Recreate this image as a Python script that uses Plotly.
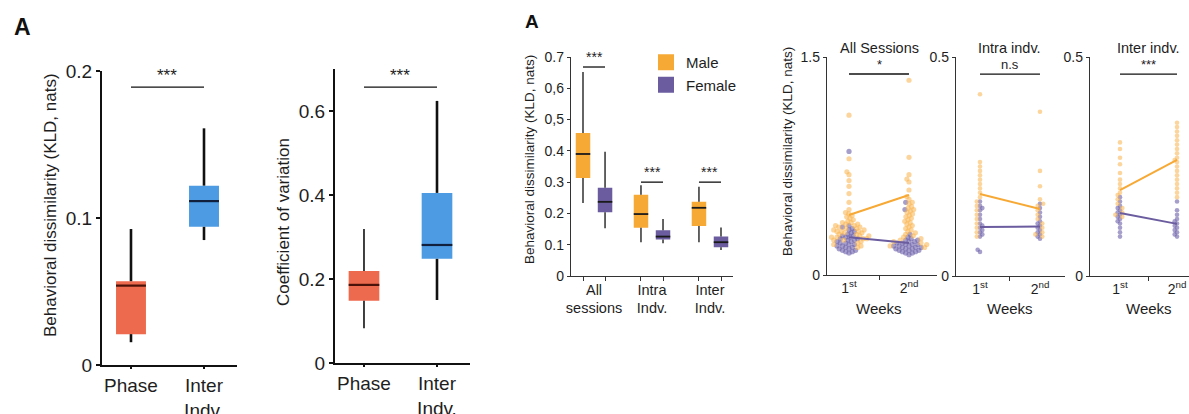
import math
import plotly.graph_objects as go

W, H = 1189, 414
FONT = "Liberation Sans, Arial, sans-serif"
TXT = "#1e1e1e"

# ---------------- Panel 1 : KLD phase vs inter-individual ----------------
p1_cats = ["Phase", "Inter<br>Indv."]
p1_low = [0.0155, 0.085]
p1_q1 = [0.021, 0.094]
p1_med = [0.054, 0.1115]
p1_q3 = [0.057, 0.122]
p1_high = [0.0925, 0.161]
p1_sig = 0.189
p1_colors = ["#EE6A4E", "#4C9BE3"]

# ---------------- Panel 2 : coefficient of variation ----------------
p2_cats = ["Phase", "Inter<br>Indv."]
p2_low = [0.083, 0.150]
p2_q1 = [0.148, 0.248]
p2_med = [0.186, 0.281]
p2_q3 = [0.219, 0.405]
p2_high = [0.319, 0.624]
p2_sig = 0.657

# ---------------- Panel 3 : male vs female ----------------
p3_groups = ["All<br>sessions", "Intra<br>Indv.", "Inter<br>Indv."]
p3_male_low = [0.233, 0.108, 0.108]
p3_male_q1 = [0.313, 0.154, 0.160]
p3_male_med = [0.390, 0.198, 0.218]
p3_male_q3 = [0.457, 0.260, 0.237]
p3_male_high = [0.652, 0.290, 0.285]
p3_fem_low = [0.153, 0.105, 0.083]
p3_fem_q1 = [0.204, 0.117, 0.092]
p3_fem_med = [0.237, 0.126, 0.108]
p3_fem_q3 = [0.282, 0.146, 0.126]
p3_fem_high = [0.397, 0.182, 0.155]
p3_sig = [0.668, 0.300, 0.300]
p3_yticks = [0, 0.1, 0.2, 0.3, 0.4, 0.5, 0.6, 0.7]
p3_yticktext = ["0", "0.1", "0.2", "0.3", "0.4", "0,5", "0,6", "0.7"]

# ---------------- Panels 4-6 : weeks ----------------
weeks = ["1<sup>st</sup>", "2<sup>nd</sup>"]

all_m_w1 = [1.10, 0.80, 0.71, 0.69, 0.65, 0.61, 0.56, 0.50, 0.45, 0.43, 0.42, 0.41,
            0.40, 0.39, 0.38, 0.37, 0.36, 0.36, 0.35, 0.35, 0.34, 0.34, 0.33, 0.33,
            0.32, 0.32, 0.31, 0.31, 0.30, 0.30, 0.30, 0.29, 0.29, 0.28, 0.28, 0.27,
            0.27, 0.26, 0.26, 0.25, 0.25, 0.24, 0.24, 0.23, 0.22, 0.21, 0.20, 0.19]
all_f_w1 = [0.85, 0.34, 0.33, 0.32, 0.31, 0.30, 0.29, 0.28, 0.27, 0.27, 0.26, 0.26,
            0.25, 0.25, 0.24, 0.24, 0.23, 0.23, 0.22, 0.22, 0.21, 0.21, 0.20, 0.20,
            0.19, 0.19, 0.18, 0.18, 0.17, 0.17, 0.16, 0.16, 0.15]
all_m_w2 = [1.34, 0.81, 0.69, 0.66, 0.64, 0.585, 0.54, 0.52, 0.50, 0.49, 0.47, 0.46,
            0.45, 0.44, 0.43, 0.42, 0.41, 0.40, 0.39, 0.38, 0.37, 0.36, 0.35, 0.34,
            0.33, 0.32, 0.31, 0.30, 0.29, 0.28, 0.27, 0.26, 0.25, 0.24, 0.23, 0.22,
            0.21, 0.20, 0.19]
all_f_w2 = [0.50, 0.45, 0.28, 0.26, 0.25, 0.24, 0.24, 0.23, 0.23, 0.22, 0.22, 0.21,
            0.21, 0.21, 0.20, 0.20, 0.20, 0.19, 0.19, 0.19, 0.18, 0.18, 0.18, 0.17,
            0.17, 0.17, 0.16, 0.16, 0.15, 0.15, 0.14]
all_m_mean = [0.413, 0.550]
all_f_mean = [0.260, 0.220]
all_sig = 1.383

intra_m_w1 = [0.415, 0.26, 0.25, 0.24, 0.23, 0.22, 0.21, 0.20, 0.19, 0.18, 0.17,
              0.16, 0.15, 0.14, 0.13, 0.12, 0.11, 0.10, 0.09]
intra_f_w1 = [0.17, 0.16, 0.155, 0.15, 0.14, 0.13, 0.12, 0.115, 0.11, 0.105, 0.10,
              0.095, 0.09, 0.06, 0.055]
intra_m_w2 = [0.375, 0.24, 0.205, 0.175, 0.165, 0.16, 0.15, 0.14, 0.13, 0.12, 0.11,
              0.10, 0.095, 0.09]
intra_f_w2 = [0.165, 0.155, 0.145, 0.135, 0.125, 0.12, 0.115, 0.11, 0.105, 0.10,
              0.095, 0.09, 0.085]
intra_m_mean = [0.187, 0.153]
intra_f_mean = [0.112, 0.113]
intra_sig = 0.461

inter_m_w1 = [0.305, 0.29, 0.27, 0.255, 0.235, 0.22, 0.21, 0.20, 0.19, 0.185, 0.175,
              0.165, 0.155, 0.145, 0.14, 0.135]
inter_f_w1 = [0.18, 0.17, 0.16, 0.155, 0.15, 0.145, 0.14, 0.135, 0.13, 0.125, 0.12,
              0.11, 0.10, 0.09]
inter_m_w2 = [0.35, 0.34, 0.33, 0.32, 0.31, 0.30, 0.29, 0.28, 0.27, 0.265, 0.26, 0.25,
              0.24, 0.23, 0.22, 0.21, 0.20, 0.19, 0.18]
inter_f_w2 = [0.17, 0.15, 0.14, 0.13, 0.125, 0.12, 0.115, 0.11, 0.105, 0.10, 0.095, 0.09]
inter_m_mean = [0.196, 0.265]
inter_f_mean = [0.144, 0.119]
inter_sig = 0.461

ORANGE = "#F7A936"
PURPLE = "#6A5C9E"
ORANGE_PT = "#F9B24A"
PURPLE_PT = "#6B5FA8"


def xdom(a, b):
    return [a / W, min(b / W, 1.0)]


def ydom(top, bottom):
    return [1 - bottom / H, 1 - top / H]


def swarm(vals, px_per_unit, d):
    """Simple beeswarm: horizontal pixel offsets so markers do not overlap."""
    ys = [v * px_per_unit for v in vals]
    order = sorted(range(len(ys)), key=lambda i: ys[i])
    placed = []
    offs = [0.0] * len(ys)
    for i in order:
        y = ys[i]
        cands = [0.0]
        for (xj, yj) in placed:
            dy = abs(y - yj)
            if dy < d:
                dx = math.sqrt(d * d - dy * dy)
                cands += [xj + dx, xj - dx]
        cands.sort(key=lambda c: (abs(c), c))
        for c in cands:
            ok = all((c - xj) ** 2 + (y - yj) ** 2 >= d * d - 1e-6 for (xj, yj) in placed)
            if ok:
                offs[i] = c
                placed.append((c, y))
                break
    return offs


fig = go.Figure()


def add_box(xa, ya, x, lo, q1, med, q3, hi, width, fill, wlw, mlw=2.2, mcol="#1a1a1a"):
    fig.add_trace(go.Box(x=[x], q1=[q1], median=[med], q3=[q3], lowerfence=[lo],
                         upperfence=[hi], width=width, fillcolor=fill,
                         line=dict(color=fill, width=0), whiskerwidth=0,
                         boxpoints=False, xaxis=xa, yaxis=ya, showlegend=False,
                         hoverinfo="skip"))
    fig.add_trace(go.Scatter(x=[x, x, None, x, x], y=[lo, q1, None, q3, hi],
                             mode="lines", line=dict(color="#111111", width=wlw),
                             xaxis=xa, yaxis=ya, showlegend=False, hoverinfo="skip"))
    fig.add_trace(go.Scatter(x=[x - width / 2, x + width / 2], y=[med, med],
                             mode="lines", line=dict(color=mcol, width=mlw),
                             xaxis=xa, yaxis=ya, showlegend=False, hoverinfo="skip"))


annotations = []
shapes = []


def sig(xa, ya, x0, x1, y, text, size):
    shapes.append(dict(type="line", xref=xa, yref=ya, x0=x0, x1=x1, y0=y, y1=y,
                       line=dict(color="#111111", width=1.3)))
    annotations.append(dict(xref=xa, yref=ya, x=(x0 + x1) / 2, y=y, text=text,
                            showarrow=False, yanchor="bottom",
                            font=dict(size=size, color=TXT, family=FONT)))


# ----- Panel 1 -----
for i in range(2):
    add_box("x", "y", i, p1_low[i], p1_q1[i], p1_med[i], p1_q3[i], p1_high[i], 0.41,
            p1_colors[i], 2.6, mcol=["#4a1208", "#10203d"][i])
sig("x", "y", 0, 1, p1_sig, "***", 17)

# ----- Panel 2 -----
for i in range(2):
    add_box("x2", "y2", i, p2_low[i], p2_q1[i], p2_med[i], p2_q3[i], p2_high[i], 0.42,
            p1_colors[i], [1.6, 2.6][i], mcol=["#4a1208", "#10203d"][i])
sig("x2", "y2", 0, 1, p2_sig, "***", 17)

# ----- Panel 3 -----
OFF = 0.19
for g in range(3):
    add_box("x3", "y3", g - OFF, p3_male_low[g], p3_male_q1[g], p3_male_med[g],
            p3_male_q3[g], p3_male_high[g], 0.25, ORANGE, 1.3, mlw=1.8)
    add_box("x3", "y3", g + OFF, p3_fem_low[g], p3_fem_q1[g], p3_fem_med[g],
            p3_fem_q3[g], p3_fem_high[g], 0.25, PURPLE, 1.3, mlw=1.8)
    sig("x3", "y3", g - OFF, g + OFF, p3_sig[g], "***", 14)

# legend entries
fig.add_trace(go.Scatter(x=[None], y=[None], mode="markers", name="Male",
                         marker=dict(symbol="square", size=16, color=ORANGE),
                         xaxis="x3", yaxis="y3"))
fig.add_trace(go.Scatter(x=[None], y=[None], mode="markers", name="Female",
                         marker=dict(symbol="square", size=16, color=PURPLE),
                         xaxis="x3", yaxis="y3"))

# ----- Panels 4-6 -----
panels = [
    ("x4", "y4", 1.5, 145.3, 60.0, [all_m_w1, all_m_w2], [all_f_w1, all_f_w2],
     all_m_mean, all_f_mean, all_sig, "*", "All Sessions", 3.6, 5.2),
    ("x5", "y5", 0.5, 438.0, 60.0, [intra_m_w1, intra_m_w2], [intra_f_w1, intra_f_w2],
     intra_m_mean, intra_f_mean, intra_sig, "n.s", "Intra indv.", 3.2, 4.6),
    ("x6", "y6", 0.5, 438.0, 57.0, [inter_m_w1, inter_m_w2], [inter_f_w1, inter_f_w2],
     inter_m_mean, inter_f_mean, inter_sig, "***", "Inter indv.", 3.2, 4.6),
]
for (xa, ya, ymax, pyu, pxu, mvals, fvals, mmean, fmean, sy, stxt, title, dd, msz) in panels:
    for w in range(2):
        combined = fvals[w] + mvals[w]
        offs = swarm(combined, pyu, dd)
        nf = len(fvals[w])
        fx = [w + o / pxu for o in offs[:nf]]
        mx = [w + o / pxu for o in offs[nf:]]
        fig.add_trace(go.Scatter(x=fx, y=fvals[w], mode="markers", xaxis=xa, yaxis=ya,
                                 marker=dict(size=msz, color=PURPLE_PT, opacity=0.6,
                                             line=dict(width=0)),
                                 showlegend=False, hoverinfo="skip", cliponaxis=False))
        fig.add_trace(go.Scatter(x=mx, y=mvals[w], mode="markers", xaxis=xa, yaxis=ya,
                                 marker=dict(size=msz, color=ORANGE_PT, opacity=0.55,
                                             line=dict(width=0)),
                                 showlegend=False, hoverinfo="skip", cliponaxis=False))
    fig.add_trace(go.Scatter(x=[0, 1], y=fmean, mode="lines", xaxis=xa, yaxis=ya,
                             line=dict(color=PURPLE, width=2), showlegend=False,
                             hoverinfo="skip"))
    fig.add_trace(go.Scatter(x=[0, 1], y=mmean, mode="lines", xaxis=xa, yaxis=ya,
                             line=dict(color=ORANGE, width=2), showlegend=False,
                             hoverinfo="skip"))
    sig(xa, ya, 0, 1, sy, stxt, 13)
    annotations.append(dict(xref=xa, yref="paper", x=0.5, y=1 - 48 / H, text=title,
                            showarrow=False, yanchor="middle",
                            font=dict(size=14.5, color=TXT, family=FONT)))
    annotations.append(dict(xref=xa, yref="paper", x=0.5, y=1 - 308 / H, text="Weeks",
                            showarrow=False, yanchor="middle",
                            font=dict(size=15, color=TXT, family=FONT)))

# ----- y-axis titles and panel letters -----
ytitles = [
    (50, 205, "Behavioral dissimilarity (KLD, nats)", 17),
    (283, 222, "Coefficient of variation", 17),
    (530, 160, "Behavioral dissimilarity (KLD, nats)", 13.5),
    (787, 152, "Behavioral dissimilarity (KLD, nats)", 13.5),
]
for (px, py, t, s) in ytitles:
    annotations.append(dict(xref="paper", yref="paper", x=px / W, y=1 - py / H, text=t,
                            textangle=-90, showarrow=False, xanchor="center",
                            yanchor="middle", font=dict(size=s, color=TXT, family=FONT)))
annotations.append(dict(xref="paper", yref="paper", x=12 / W, y=1 - 27 / H, text="<b>A</b>",
                        showarrow=False, xanchor="left", yanchor="middle",
                        font=dict(size=23, color="#111", family=FONT)))
annotations.append(dict(xref="paper", yref="paper", x=523 / W, y=1 - 21 / H, text="<b>A</b>",
                        showarrow=False, xanchor="left", yanchor="middle",
                        font=dict(size=19, color="#111", family=FONT)))


def axis(dom, rng, anchor, lw, col, tickvals=None, ticktext=None, size=14, ticks="outside",
         ticklen=4):
    d = dict(domain=dom, range=rng, anchor=anchor, showline=True, linecolor=col,
             linewidth=lw, showgrid=False, zeroline=False, ticks=ticks, tickcolor=col,
             tickwidth=lw, ticklen=ticklen, fixedrange=True, automargin=False,
             tickfont=dict(size=size, color=TXT, family=FONT))
    if tickvals is not None:
        d.update(tickmode="array", tickvals=tickvals, ticktext=ticktext)
    return d


layout = dict(
    template="none",
    width=W, height=H, margin=dict(l=0, r=0, t=0, b=0, pad=0, autoexpand=False),
    paper_bgcolor="white", plot_bgcolor="white",
    font=dict(family=FONT, color=TXT),
    showlegend=True,
    legend=dict(x=646 / W, y=1 - 46 / H, xanchor="left", yanchor="top",
                font=dict(size=15, color=TXT, family=FONT), bgcolor="rgba(0,0,0,0)",
                itemwidth=30, tracegroupgap=0),
    annotations=annotations, shapes=shapes,
)

# panel 1
layout["xaxis"] = axis(xdom(102, 237), [-0.397, 1.452], "y", 2.2, "#111", [0, 1], p1_cats, 19,
                       ticklen=2)
layout["yaxis"] = axis(ydom(71, 365), [0, 0.2], "x", 2.2, "#111", [0, 0.1, 0.2],
                       ["0", "0.1", "0.2"], 19)
# panel 2
layout["xaxis2"] = axis(xdom(335, 470), [-0.397, 1.452], "y2", 2.2, "#111", [0, 1], p2_cats, 19,
                        ticklen=2)
layout["yaxis2"] = axis(ydom(69, 363), [0, 0.7], "x2", 2.2, "#111", [0, 0.2, 0.4, 0.6],
                        ["0", "0.2", "0.4", "0.6"], 19)
# panel 3
x3 = axis(xdom(571, 733), [-0.397, 2.397], "y3", 1.4, "#333", [0, 1, 2], p3_groups, 14.5,
          ticks="")
x3["minor"] = dict(tickmode="array", tickvals=[-OFF, OFF, 1 - OFF, 1 + OFF, 2 - OFF, 2 + OFF],
                   ticks="outside", ticklen=4, tickwidth=1.2, tickcolor="#333")
layout["xaxis3"] = x3
layout["yaxis3"] = axis(ydom(57, 276), [0, 0.7], "x3", 1.4, "#333", p3_yticks, p3_yticktext,
                        14, ticklen=3)
# panels 4-6
for k, (xd, yd, xr, ymax) in enumerate([
        ((827, 937), (57, 275), [-0.367, 1.467], 1.5),
        ((956, 1065), (57, 276), [-0.4, 1.417], 0.5),
        ((1090, 1189), (57, 276), [-0.526, 1.21], 0.5)]):
    n = k + 4
    xa = axis(xdom(*xd), xr, "y%d" % n, 1.4, "#333", [0, 1], weeks, 14, ticks="")
    xa["minor"] = dict(tickmode="array", tickvals=[0.5], ticks="outside", ticklen=4,
                       tickwidth=1.2, tickcolor="#333")
    layout["xaxis%d" % n] = xa
    layout["yaxis%d" % n] = axis(ydom(*yd), [0, ymax], "x%d" % n, 1.4, "#333", [0, ymax],
                                 ["0", "%g" % ymax], 14, ticklen=3)

fig.update_layout(**layout)
fig.write_html("out.html", config={"displayModeBar": False},
               post_script="document.body.style.margin='0';document.body.style.overflow='hidden';")
